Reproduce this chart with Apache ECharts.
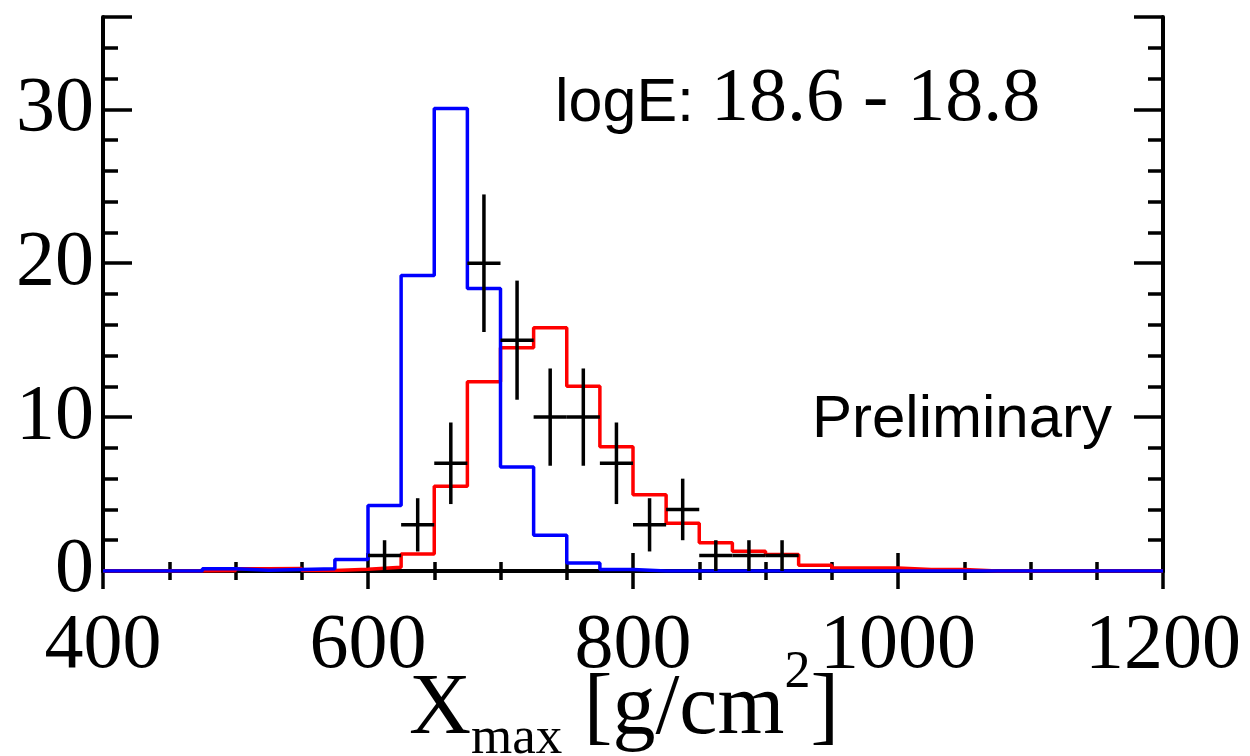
<!DOCTYPE html>
<html><head><meta charset="utf-8">
<script src="https://cdn.jsdelivr.net/npm/echarts@6/dist/echarts.min.js"></script>
<style>html,body{margin:0;padding:0;background:#fff}#c{width:1250px;height:756px}</style>
</head><body><div id="c"></div>
<script>
// Histogram bin lower edges (g/cm^2), bin width 25
const binEdges = [400,425,450,475,500,525,550,575,600,625,650,675,700,725,750,775,
                  800,825,850,875,900,925,950,975,1000,1025,1050,1075,1100,1125,1150,1175];
const binWidth = 25;
const xEnd = 1200;
// Blue histogram
const blueValues = [0,0,0,0.15,0.05,0.1,0.15,0.75,4.25,19.2,30.05,18.35,6.76,2.33,0.52,0.1,
                    0,0,0,0,0,0,0,0,0,0,0,0,0,0,0,0];
// Red histogram
const redValues = [0,0,0,0.02,0.15,0.17,0.03,0.12,0.24,1.1,5.5,12.3,14.5,15.8,12.0,8.07,
                   4.95,3.1,1.83,1.29,1.07,0.37,0.2,0.2,0.1,0.1,0,0,0,0,0,0];
// Data points (bin centres), counts and errors
const dataX = [612.5,637.5,662.5,687.5,712.5,737.5,762.5,787.5,812.5,837.5,862.5,887.5,912.5];
const dataY = [1,3,7,20,15,10,10,7,3,4,1,1,1];
const dataErr = [1,1.73,2.65,4.47,3.87,3.16,3.16,2.65,1.73,2,1,1,1];
const xTicks = [400,600,800,1000,1200];
const yTicks = [0,10,20,30];

const chart = echarts.init(document.getElementById('c'), null, {renderer:'canvas'});
function stepData(vals){
  const d = binEdges.map((e,i)=>[e, vals[i]]);
  d.push([xEnd, vals[vals.length-1]]);
  return d;
}
const serif = 'Liberation Serif';
const sans = 'Liberation Sans';
const xBase = {
  type:'value', min:400, max:1200, interval:200,
  axisLine:{show:true, lineStyle:{color:'#000', width:4}},
  axisTick:{show:true, inside:true, length:18, lineStyle:{color:'#000', width:3.5}},
  minorTick:{show:true, splitNumber:4, length:9, lineStyle:{color:'#000', width:3.5}},
  splitLine:{show:false}, minorSplitLine:{show:false}
};
const yBase = {
  type:'value', min:0, max:36, interval:10,
  axisLine:{show:true, lineStyle:{color:'#000', width:4}},
  axisTick:{show:true, inside:true, length:29, lineStyle:{color:'#000', width:3.5}},
  minorTick:{show:true, splitNumber:5, length:15, lineStyle:{color:'#000', width:3.5}},
  splitLine:{show:false}, minorSplitLine:{show:false}
};
const option = {
  animation:false,
  backgroundColor:'#fff',
  grid:{left:103, right:87, top:17, bottom:185, containLabel:false, outerBoundsMode:'none'},
  title:[
    {text:'{a|logE:}{b|18.6 - 18.8}', left:555, top:62, padding:0,
     textStyle:{fontWeight:'normal', rich:{
       a:{fontFamily:sans, fontSize:61, fontWeight:'normal', color:'#000', padding:[8,0,0,0]},
       b:{fontFamily:serif, fontSize:76, fontWeight:'normal', color:'#000', padding:[0,0,0,17]}
     }}},
    {text:'Preliminary', left:812, top:390, padding:0,
     textStyle:{fontFamily:sans, fontSize:60, fontWeight:'normal', color:'#000'}}
  ],
  xAxis:[
    Object.assign({}, xBase, {position:'bottom',
      axisLabel:{show:true, margin:37, fontFamily:serif, fontSize:78, color:'#000',
                 formatter:v=> xTicks.indexOf(v)>=0 ? String(v) : ''},
      name:'{X|X}{sub|max}{n| [g/cm}{sup|2}{n|]}', nameLocation:'middle', nameGap:70,
      nameMoveOverlap:false,
      nameTextStyle:{padding:[0,18,0,0], rich:{
        X:{fontFamily:serif, fontSize:86, color:'#000', verticalAlign:'top', padding:[26,0,0,0]},
        n:{fontFamily:serif, fontSize:86, color:'#000', verticalAlign:'top', padding:[26,0,0,0]},
        sub:{fontFamily:serif, fontSize:53, color:'#000', verticalAlign:'top', padding:[72,0,0,0]},
        sup:{fontFamily:serif, fontSize:52, color:'#000', verticalAlign:'top', padding:[6,0,0,0]}
      }}}),
    Object.assign({}, xBase, {position:'top', axisLabel:{show:false}})
  ],
  yAxis:[
    Object.assign({}, yBase, {position:'left',
      axisLabel:{show:true, margin:9, fontFamily:serif, fontSize:78, color:'#000',
                 formatter:v=> yTicks.indexOf(v)>=0 ? String(v) : ''}}),
    Object.assign({}, yBase, {position:'right', axisLabel:{show:false}})
  ],
  series:[
    {type:'line', step:'end', data:stepData(redValues), xAxisIndex:0, yAxisIndex:0,
     showSymbol:false, symbol:'none', lineStyle:{color:'#ff0000', width:3.5}, z:3},
    {type:'line', step:'end', data:stepData(blueValues), xAxisIndex:0, yAxisIndex:0,
     showSymbol:false, symbol:'none', lineStyle:{color:'#0000ff', width:3.5}, z:4},
    {type:'custom', xAxisIndex:0, yAxisIndex:0, z:5,
     data:dataX.map((x,i)=>[x, dataY[i], dataErr[i]]),
     renderItem:function(params, api){
       const x = api.value(0), y = api.value(1), e = api.value(2);
       const t = api.coord([x, y+e]), b = api.coord([x, Math.max(0, y-e)]);
       const l = api.coord([x-binWidth/2, y]), r = api.coord([x+binWidth/2, y]);
       const st = {stroke:'#000', lineWidth:3.5};
       return {type:'group', children:[
         {type:'line', shape:{x1:t[0],y1:t[1],x2:b[0],y2:b[1]}, style:st},
         {type:'line', shape:{x1:l[0],y1:l[1],x2:r[0],y2:r[1]}, style:st}
       ]};
     }}
  ]
};
chart.setOption(option);
</script></body></html>
